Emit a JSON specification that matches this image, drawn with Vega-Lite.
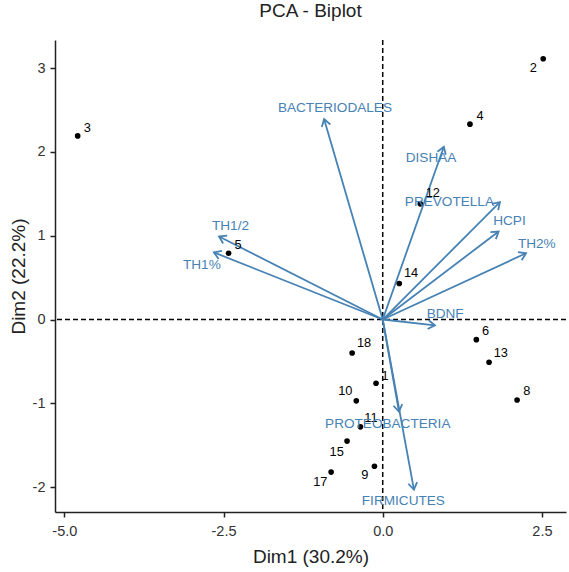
{
  "$schema": "https://vega.github.io/schema/vega-lite/v6.json",
  "width": 511,
  "height": 472,
  "autosize": {"type": "none"},
  "padding": {"left": 55, "top": 40, "right": 3, "bottom": 60},
  "background": "white",
  "title": {"text": "PCA - Biplot", "fontSize": 19, "font": "Liberation Sans", "fontWeight": "normal", "color": "#222", "anchor": "middle", "offset": 18},
  "config": {
    "view": {"stroke": null},
    "axis": {"grid": false, "domainColor": "#222", "domainWidth": 1.5, "tickColor": "#222", "tickWidth": 1.5, "tickSize": 5, "labelFont": "Liberation Sans", "labelFontSize": 14.5, "labelColor": "#333", "titleFont": "Liberation Sans", "titleFontSize": 19, "titleFontWeight": "normal", "titleColor": "#222"}
  },
  "datasets": {
    "ind": [
      {"id": "1", "x": -0.105, "y": -0.76, "lx": 0.035, "ly": -0.675},
      {"id": "2", "x": 2.52, "y": 3.11, "lx": 2.363, "ly": 3.004},
      {"id": "3", "x": -4.79, "y": 2.19, "lx": -4.64, "ly": 2.28},
      {"id": "4", "x": 1.37, "y": 2.33, "lx": 1.53, "ly": 2.43},
      {"id": "5", "x": -2.42, "y": 0.79, "lx": -2.27, "ly": 0.89},
      {"id": "6", "x": 1.47, "y": -0.24, "lx": 1.613, "ly": -0.139},
      {"id": "8", "x": 2.11, "y": -0.96, "lx": 2.264, "ly": -0.854},
      {"id": "9", "x": -0.13, "y": -1.75, "lx": -0.283, "ly": -1.857},
      {"id": "10", "x": -0.415, "y": -0.97, "lx": -0.588, "ly": -0.854},
      {"id": "11", "x": -0.35, "y": -1.28, "lx": -0.184, "ly": -1.17},
      {"id": "12", "x": 0.59, "y": 1.38, "lx": 0.786, "ly": 1.508},
      {"id": "13", "x": 1.67, "y": -0.51, "lx": 1.855, "ly": -0.396},
      {"id": "14", "x": 0.26, "y": 0.43, "lx": 0.445, "ly": 0.56},
      {"id": "15", "x": -0.56, "y": -1.45, "lx": -0.723, "ly": -1.58},
      {"id": "17", "x": -0.81, "y": -1.82, "lx": -0.981, "ly": -1.944},
      {"id": "18", "x": -0.48, "y": -0.4, "lx": -0.294, "ly": -0.277}
    ],
    "var": [
      {"name": "BACTERIODALES", "x": -0.92, "y": 2.39, "lx": -0.75, "ly": 2.527},
      {"name": "DISHAA", "x": 0.96, "y": 2.06, "lx": 0.759, "ly": 1.932},
      {"name": "PREVOTELLA", "x": 1.84, "y": 1.4, "lx": 1.047, "ly": 1.401},
      {"name": "HCPI", "x": 1.82, "y": 1.05, "lx": 1.99, "ly": 1.179},
      {"name": "TH2%", "x": 2.25, "y": 0.79, "lx": 2.42, "ly": 0.905},
      {"name": "BDNF", "x": 0.82, "y": -0.07, "lx": 0.98, "ly": 0.06},
      {"name": "PROTEOBACTERIA", "x": 0.256, "y": -1.1, "lx": 0.079, "ly": -1.242},
      {"name": "FIRMICUTES", "x": 0.49, "y": -2.03, "lx": 0.324, "ly": -2.163},
      {"name": "TH1/2", "x": -2.57, "y": 0.99, "lx": -2.39, "ly": 1.12},
      {"name": "TH1%", "x": -2.65, "y": 0.8, "lx": -2.84, "ly": 0.65}
    ]
  },
  "data": {"name": "var"},
  "layer": [
    {
      "data": {"values": [{"zero": 0}]},
      "mark": {"type": "rule", "strokeDash": [5, 3], "color": "black", "strokeWidth": 1.5},
      "encoding": {
        "x": {"field": "zero", "type": "quantitative", "scale": {"domain": [-5.146, 2.878], "nice": false, "zero": false}, "axis": {"values": [-5, -2.5, 0, 2.5], "format": ".1f", "labelExpr": "replace(datum.label, '\u2212', '-')", "title": "Dim1 (30.2%)", "labelPadding": 7, "titlePadding": 10}}
      }
    },
    {
      "data": {"values": [{"zero": 0}]},
      "mark": {"type": "rule", "strokeDash": [5, 3], "color": "black", "strokeWidth": 1.5},
      "encoding": {
        "y": {"field": "zero", "type": "quantitative", "scale": {"domain": [-2.296, 3.334], "nice": false, "zero": false}, "axis": {"values": [-2, -1, 0, 1, 2, 3], "format": "d", "labelExpr": "replace(datum.label, '\u2212', '-')", "title": "Dim2 (22.2%)", "labelPadding": 5, "titlePadding": 4}}
      }
    },
    {
      "mark": {"type": "rule", "color": "#4682B4", "strokeWidth": 1.8},
      "encoding": {
        "x": {"field": "x", "type": "quantitative"},
        "y": {"field": "y", "type": "quantitative"},
        "x2": {"datum": 0},
        "y2": {"datum": 0}
      }
    },
    {
      "transform": [{"calculate": "atan2(datum.x * 63.68, datum.y * 83.9) * 180 / PI", "as": "ang"}],
      "mark": {"type": "point", "shape": "M-0.55,0.85L0,0L0.55,0.85", "filled": false, "stroke": "#4682B4", "strokeWidth": 1.8, "size": 260, "opacity": 1},
      "encoding": {
        "x": {"field": "x", "type": "quantitative"},
        "y": {"field": "y", "type": "quantitative"},
        "angle": {"field": "ang", "type": "quantitative", "scale": null}
      }
    },
    {
      "data": {"name": "ind"},
      "mark": {"type": "circle", "color": "black", "size": 32, "opacity": 1},
      "encoding": {
        "x": {"field": "x", "type": "quantitative"},
        "y": {"field": "y", "type": "quantitative"}
      }
    },
    {
      "data": {"name": "ind"},
      "mark": {"type": "text", "font": "Liberation Sans", "fontSize": 12.8, "color": "black", "align": "center", "baseline": "middle"},
      "encoding": {
        "x": {"field": "lx", "type": "quantitative"},
        "y": {"field": "ly", "type": "quantitative"},
        "text": {"field": "id"}
      }
    },
    {
      "mark": {"type": "text", "font": "Liberation Sans", "fontSize": 13.6, "color": "#4682B4", "align": "center", "baseline": "middle"},
      "encoding": {
        "x": {"field": "lx", "type": "quantitative"},
        "y": {"field": "ly", "type": "quantitative"},
        "text": {"field": "name"}
      }
    }
  ]
}
